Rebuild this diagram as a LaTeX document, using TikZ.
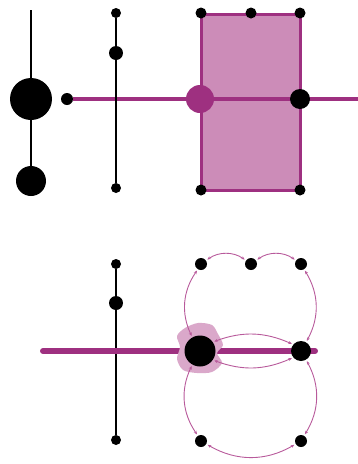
\documentclass[tikz,border=0pt]{standalone}
\usetikzlibrary{arrows.meta}
\definecolor{plum}{RGB}{158,48,128}
\definecolor{plumthin}{RGB}{184,90,155}
\definecolor{plumfill}{RGB}{204,140,184}
\definecolor{plumblob}{RGB}{218,168,202}
\tikzset{
    dot/.style={circle,fill=black,inner sep=0pt,minimum size=#1},
    pdot/.style={circle,fill=plum,inner sep=0pt,minimum size=#1},
    hop/.style={plumthin,line width=0.9pt,{Stealth[length=3.5pt,width=3pt]}-{Stealth[length=3.5pt,width=3pt]},shorten <=1.5pt,shorten >=1.5pt}
}
\begin{document}
\begin{tikzpicture}[x=1pt,y=1pt]
    \useasboundingbox (0,0) rectangle (358,-464);
    %parte sopra
    %rettangolo
    \draw[plum,line width=3pt,fill=plumfill](201,-14) rectangle (300,-190);
    %linea magenta
    \node[dot=12pt](s)at(67,-99){};
    \coordinate(e)at(358,-99);
    \draw[plum,line width=3.5pt](s)--(e);
    %asse sinistro
    \node[dot=42pt](g)at(31,-99){};
    \node[dot=30pt](gb)at(31,-181){};
    \coordinate(gt)at(31,-10);
    \draw[line width=2pt](gt)--(gb);
    %asse centrale
    \node[dot=10pt](a1)at(116,-13){};
    \node[dot=14pt](a2)at(116,-53){};
    \node[dot=10pt](a3)at(116,-188){};
    \draw[line width=2pt](a1)--(a3);
    %vertici
    \node[dot=11pt](r1)at(201,-13){};
    \node[dot=11pt](r2)at(251,-13){};
    \node[dot=11pt](r3)at(300,-13){};
    \node[dot=11pt](r4)at(201,-190){};
    \node[dot=11pt](r5)at(300,-190){};
    \node[pdot=28pt](m)at(200,-99){};
    \node[dot=20pt](mr)at(300,-99){};

    %parte sotto
    %asse centrale
    \node[dot=10pt](b1)at(116,-264){};
    \node[dot=14pt](b2)at(116,-303){};
    \node[dot=10pt](b3)at(116,-440){};
    \draw[line width=2pt](b1)--(b3);
    %linea magenta
    \coordinate(l1)at(43,-351);
    \coordinate(l2)at(315,-351);
    \draw[plum,line width=6pt,line cap=round](l1)--(l2);
    %macchia
    \fill[plumblob]plot[smooth cycle]coordinates{(185,-328)(198,-323)(212,-325)(218,-334)(223,-345)(217,-353)(222,-363)(212,-372)(197,-373)(183,-370)(177,-359)(180,-347)(177,-336)};
    \node[dot=31pt](c)at(200,-351){};
    \node[dot=20pt](d)at(301,-351){};
    \node[dot=12pt](t1)at(201,-264){};
    \node[dot=12pt](t2)at(251,-264){};
    \node[dot=12pt](t3)at(301,-264){};
    \node[dot=12pt](u1)at(201,-441){};
    \node[dot=12pt](u2)at(301,-441){};
    %frecce
    \draw[hop](t1)to[bend left=35](t2);
    \draw[hop](t2)to[bend left=35](t3);
    \draw[hop](t1)to[bend right=30](c);
    \draw[hop](t3)to[bend left=30](d);
    \draw[hop](c.35)to[bend left=22](d.140);
    \draw[hop](c.-35)to[bend right=22](d.-140);
    \draw[hop](c)to[bend right=30](u1);
    \draw[hop](d)to[bend left=30](u2);
    \draw[hop](u1)to[bend right=30](u2);
\end{tikzpicture}
\end{document}
